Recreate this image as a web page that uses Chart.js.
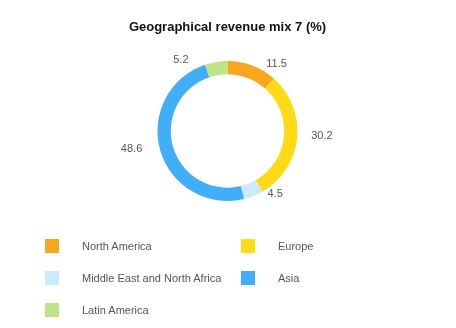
<!DOCTYPE html>
<html>
<head>
<meta charset="utf-8">
<script src="https://cdn.jsdelivr.net/npm/chart.js@4/dist/chart.umd.min.js"></script>
<style>
  html, body { margin: 0; padding: 0; background: #fff; }
  #wrap { position: relative; width: 456px; height: 328px; }
  #legend { position: absolute; left: 0; top: 0; width: 456px; height: 328px; pointer-events: none;
            font-family: Arial, "Liberation Sans", sans-serif; font-size: 11px; color: #555; }
  .item { position: absolute; height: 14px; line-height: 14px; white-space: nowrap; }
  .box { position: absolute; left: 0; top: 0; width: 14px; height: 14px; }
  .txt { position: absolute; left: 37px; top: 0; }
</style>
</head>
<body>
<div id="wrap">
  <canvas id="mixChart" width="456" height="328"></canvas>
  <div id="legend"></div>
</div>
<script>
// data
var regions = ["North America", "Europe", "Middle East and North Africa", "Asia", "Latin America"];
var shares = [11.5, 30.2, 4.5, 48.6, 5.2];
var colours = ["#F8A71C", "#FFDA17", "#CBEAFB", "#40AEF8", "#BEE487"];

//- value labels outside the ring -
var outsideLabels = {
  id: "outsideLabels",
  afterDatasetsDraw: function (chart) {
    var ctx = chart.ctx;
    var meta = chart.getDatasetMeta(0);
    ctx.save();
    ctx.font = "11px Arial, 'Liberation Sans', sans-serif";
    ctx.fillStyle = "#555";
    ctx.textBaseline = "middle";
    meta.data.forEach(function (arc, i) {
      var mid = (arc.startAngle + arc.endAngle) / 2;
      var r = arc.outerRadius;
      var dx = Math.cos(mid) * r;
      var dy = Math.sin(mid) * r;
      var side = dx >= 0 ? 1 : -1;
      var x = arc.x + side * (Math.max(Math.abs(dx), 21) + 14 + (side < 0 ? 4 : 0));
      var y = arc.y + dy - 2;
      ctx.textAlign = side > 0 ? "left" : "right";
      ctx.fillText(shares[i].toFixed(1), x, y);
    });
    ctx.restore();
  }
};

var ctx = document.getElementById("mixChart").getContext("2d");
new Chart(ctx, {
  type: "doughnut",
  data: {
    labels: regions,
    datasets: [{
      data: shares,
      backgroundColor: colours,
      borderWidth: 0
    }]
  },
  options: {
    responsive: false,
    maintainAspectRatio: false,
    animation: false,
    cutout: "81%",
    radius: 70,
    layout: { padding: { left: 0, right: 1, top: 0, bottom: 127 } },
    plugins: {
      legend: { display: false },
      tooltip: { enabled: false },
      title: {
        display: true,
        text: "Geographical revenue mix 7 (%)",
        color: "#111",
        font: { family: "Arial, 'Liberation Sans', sans-serif", size: 13, weight: "bold", lineHeight: 1.2 },
        padding: { top: 20, bottom: 25.4 }
      }
    }
  },
  plugins: [outsideLabels]
});

//- legend, two columns -
var legend = document.getElementById("legend");
regions.forEach(function (name, i) {
  var col = i % 2, row = Math.floor(i / 2);
  var item = document.createElement("div");
  item.className = "item";
  item.style.left = (45 + col * 196) + "px";
  item.style.top = (239 + row * 32) + "px";
  item.innerHTML = '<span class="box" style="background:' + colours[i] + '"></span><span class="txt"></span>';
  item.querySelector(".txt").textContent = name;
  legend.appendChild(item);
});
</script>
</body>
</html>
